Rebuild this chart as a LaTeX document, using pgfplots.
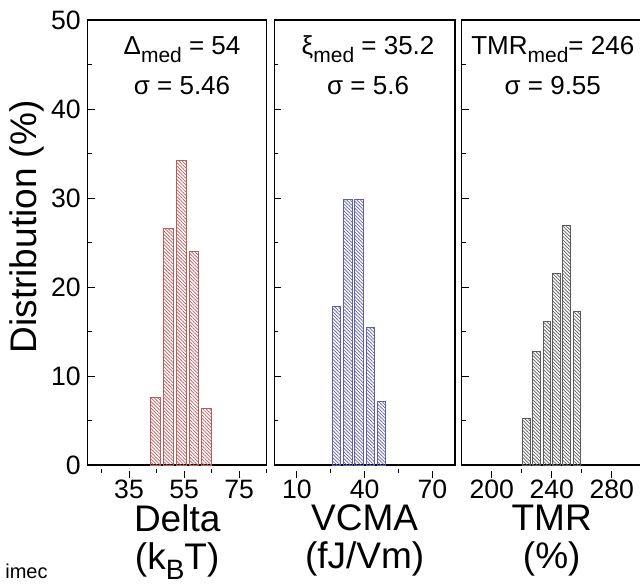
\documentclass[border=0pt]{standalone}
\usepackage{fontspec}
\setmainfont{Liberation Sans}
\usepackage{pgfplots}
\pgfplotsset{compat=1.18}
\usetikzlibrary{patterns.meta}

\definecolor{redc}{HTML}{B85C5C}
\definecolor{bluec}{HTML}{5E5EA6}
\definecolor{grayc}{HTML}{5A5A5A}

\newcommand{\sub}[1]{\raisebox{-4pt}{\fontsize{10.5}{10}\selectfont #1}}

\pgfplotsset{
  panel/.style={
    scale only axis, height=222.5pt, clip=false,
    ymin=0, ymax=50, ytick={0,10,...,50}, minor y tick num=1,
    ytick pos=left, xtick pos=bottom,
    tick align=inside,
    major tick length=3.5pt, minor tick length=2pt,
    major x tick style={yshift=-3pt},
    minor x tick style={yshift=-2pt},
    axis line style={line width=0.6pt},
    every tick/.style={black, line width=0.5pt},
    ybar,
    tick label style={font=\fontsize{13.3}{16}\selectfont},
    /pgf/number format/assume math mode=true,
    xticklabel style={yshift=-0.5pt},
    xlabel style={at={(axis description cs:0.5,0)}, anchor=north, yshift=-16.5pt,
      align=center, font=\fontsize{18.5}{19}\selectfont},
  },
  bars/.style={draw=#1, line width=0.5pt,
    pattern={Lines[angle=-45, distance=1.2pt, line width=0.35pt]},
    pattern color=#1},
}

\begin{document}
\begin{tikzpicture}
\begin{axis}[panel, at={(0pt,0pt)}, anchor=south west, width=89.5pt,
  xmin=20, xmax=85, xtick={35,55,75}, minor xtick={25,45,65,85},
  bar width=3.45,
  ylabel={Distribution (\%)},
  ylabel style={at={(axis description cs:-0.339,0.535)}, anchor=center,
    font=\fontsize{18.5}{21}\selectfont},
  xlabel={Delta\\(k\raisebox{-5pt}{\fontsize{14}{14}\selectfont B}T)},
]
\addplot[bars=redc] coordinates {(44.6,7.6) (49.3,26.6) (54.0,34.2) (58.6,24.0) (63.2,6.3)};
\node[anchor=base, font=\fontsize{13}{15}\selectfont] at (axis description cs:0.527,0.9236) {Δ\sub{med} = 54};
\node[anchor=base, font=\fontsize{13}{15}\selectfont] at (axis description cs:0.527,0.8315) {σ = 5.46};
\node[anchor=west, inner sep=0pt, font=\fontsize{10}{12}\selectfont] at (axis description cs:-0.462,-0.240) {imec};
\end{axis}

\begin{axis}[panel, at={(93.3pt,0pt)}, anchor=south west, width=90.35pt,
  xmin=0, xmax=80, xtick={10,40,70}, minor xtick={25,55},
  bar width=3.8, yticklabels={},
  xlabel={VCMA\\(fJ/Vm)},
]
\addplot[bars=bluec] coordinates {(27.5,17.8) (32.5,29.8) (37.5,29.8) (42.5,15.5) (47.5,7.1)};
\node[anchor=base, font=\fontsize{13}{15}\selectfont] at (axis description cs:0.519,0.9236) {ξ\sub{med} = 35.2};
\node[anchor=base, font=\fontsize{13}{15}\selectfont] at (axis description cs:0.519,0.8315) {σ = 5.6};
\end{axis}

\begin{axis}[panel, at={(187pt,0pt)}, anchor=south west, width=90pt,
  xmin=180, xmax=300, xtick={200,240,280}, minor xtick={220,260},
  bar width=5, yticklabels={},
  xlabel={TMR\\(\%)},
]
\addplot[bars=grayc] coordinates {(223.3,5.25) (230,12.8) (236.7,16.1) (243.3,21.5) (250,26.9) (256.7,17.2)};
\node[anchor=base, font=\fontsize{13}{15}\selectfont] at (axis description cs:0.506,0.9236) {TMR\sub{med}= 246};
\node[anchor=base, font=\fontsize{13}{15}\selectfont] at (axis description cs:0.506,0.8315) {σ = 9.55};
\end{axis}

\pgfresetboundingbox
\path[use as bounding box] (-43.85pt,-59pt) rectangle (276.15pt,232.5pt);
\end{tikzpicture}
\end{document}
